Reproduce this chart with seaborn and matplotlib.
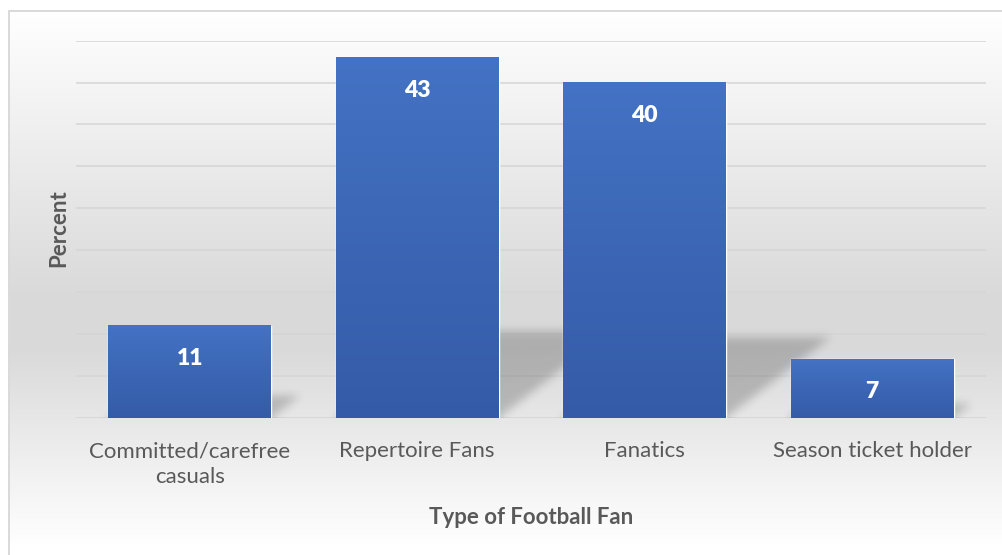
import numpy as np
import matplotlib
matplotlib.use("Agg")
import matplotlib.pyplot as plt
from matplotlib.patches import Rectangle
import seaborn as sns

categories = ["Committed/carefree\ncasuals", "Repertoire Fans", "Fanatics", "Season ticket holder"]
values = [11, 43, 40, 7]
x_title = "Type of Football Fan"
y_title = "Percent"

W, H, DPI = 1003, 555, 100
TEXT = "#595959"
TOP_BLUE = np.array([68, 114, 196]) / 255
BOT_BLUE = np.array([52, 91, 167]) / 255

sns.set_theme(style="white")
plt.rcParams["font.family"] = ["Lato", "DejaVu Sans"]

fig = plt.figure(figsize=(W / DPI, H / DPI), dpi=DPI)
fig.patch.set_facecolor("white")

# chart-area background: vertical grey gradient
bg = fig.add_axes([0, 0, 1, 1], zorder=-5)
rows = np.arange(H)
stops_y = [0, 10, 300, 345, 545, 555]
stops_v = [255, 255, 217, 217, 255, 255]
col = np.interp(rows, stops_y, stops_v) / 255
bg.imshow(np.repeat(col[:, None], 3, axis=1)[:, None, :].repeat(2, axis=1),
          extent=[0, 1, 0, 1], aspect="auto", origin="upper")
bg.set_axis_off()
bg.add_patch(Rectangle((0, 0), 9 / W, 1, color="white", lw=0, zorder=2))
bg.add_patch(Rectangle((0, 1 - 10 / H), 1, 10 / H, color="white", lw=0, zorder=2))
fig.patches.append(Rectangle((9.5 / W, -0.1), 1.2, 1.1 - 10.5 / H, fill=False,
                             edgecolor="#D9D9D9", lw=1.4, transform=fig.transFigure))

ax = fig.add_axes([76 / W, 1 - 417.7 / H, 910 / W, (417.7 - 40.7) / H])
ax.patch.set_alpha(0)
sns.barplot(x=categories, y=values, color="#4472C4", saturation=1, width=0.716, ax=ax)

ymax = 45
ax.set_xlim(-0.5, len(values) - 0.5)
ax.set_ylim(0, ymax)
ax.set_yticks(np.arange(0, ymax + 1, 5))
ax.set_yticklabels([])
ax.yaxis.grid(True, color="#D5D5D5", lw=1.1)
ax.set_axisbelow(True)
for s in ax.spines.values():
    s.set_visible(False)
ax.tick_params(axis="both", length=0)
ax.tick_params(axis="x", pad=17, labelsize=16, labelcolor=TEXT)
for lbl in ax.get_xticklabels():
    lbl.set_linespacing(1.35)
ax.set_xlabel("")
ax.set_ylabel("")

# soft cast shadows behind the bars
nx, ny = 1000, 420
gx = np.linspace(-0.5, len(values) - 0.5, nx)
gy = np.linspace(0, ymax, ny)
XX, YY = np.meshgrid(gx, gy)
mask = np.zeros_like(XX)
for p in ax.patches:
    xl, w, h = p.get_x(), p.get_width(), p.get_height()
    hs = 0.24 * h
    dx = 0.0115 * h
    shift = np.clip(YY / hs, 0, 1) * dx
    inside = (YY <= hs) & (XX - shift >= xl) & (XX - shift <= xl + w)
    mask = np.maximum(mask, inside.astype(float))

def blur(a, sigma, axis):
    r = int(3 * sigma)
    k = np.exp(-0.5 * (np.arange(-r, r + 1) / sigma) ** 2)
    k /= k.sum()
    return np.apply_along_axis(lambda v: np.convolve(np.pad(v, r, mode="edge"), k, mode="valid"), axis, a)

mask = blur(blur(mask, 5, 1), 5, 0)
shadow = np.zeros((ny, nx, 4))
shadow[..., 3] = 0.2 * mask
ax.imshow(shadow, extent=[gx[0], gx[-1], 0, ymax], origin="lower", aspect="auto", zorder=1)

# vertical gradient fill on every bar
for p in ax.patches:
    xl, w, h = p.get_x(), p.get_width(), p.get_height()
    t = np.linspace(0, 1, 200)[:, None]
    grad = (BOT_BLUE[None, :] * (1 - t) + TOP_BLUE[None, :] * t)[:, None, :]
    ax.imshow(grad, extent=[xl, xl + w, 0, h], origin="lower", aspect="auto", zorder=3)
    p.set_zorder(2.5)

for i, v in enumerate(values):
    ax.annotate(f"{v}", xy=(i, v), xytext=(0, -23.5), textcoords="offset points",
                ha="center", va="center", color="white", fontsize=16.5, fontweight="heavy", zorder=5)

ax.set_xlim(-0.5, len(values) - 0.5)
ax.set_ylim(0, ymax)

fig.text(58.5 / W, 1 - 228 / H, y_title, rotation=90, ha="center", va="center",
         color=TEXT, fontsize=16, fontweight="bold")
fig.text(531 / W, 1 - 517 / H, x_title, ha="center", va="center",
         color=TEXT, fontsize=16, fontweight="bold")

fig.savefig("out.png", dpi=DPI)
